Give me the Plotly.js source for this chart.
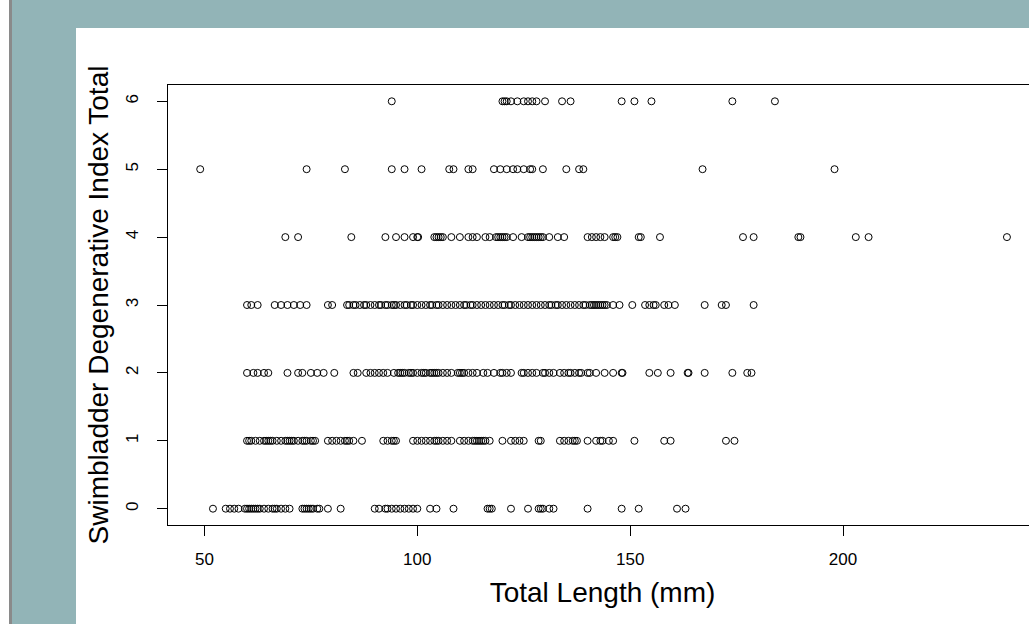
<!DOCTYPE html>
<html><head><meta charset="utf-8">
<script src="https://cdn.plot.ly/plotly-3.0.1.min.js"></script>
<style>
html,body{margin:0;padding:0;overflow:hidden;width:1029px;height:624px;background:#92b4b7;}
#strip{position:absolute;left:0;top:0;width:9px;height:624px;background:#fff;}
#edge{position:absolute;left:9px;top:0;width:3px;height:624px;background:#8a8a8a;}
#plot{position:absolute;left:76px;top:28px;width:969px;height:596px;}
</style></head>
<body>
<div id="strip"></div><div id="edge"></div>
<div id="plot"></div>
<script>
// Total length (mm) of fish at each Swimbladder Degenerative Index score
const score0 = [52, 55, 56, 57, 58, 59.5, 60, 60.5, 61, 61.5, 62, 62.5, 63, 64, 65, 66, 66.5, 67, 68, 69, 70, 73, 73.5, 74, 74.5, 75, 75.5, 76.5, 77, 79, 82, 90, 91, 92.5, 93, 94, 95, 96, 97, 98, 99, 100, 103, 104.5, 108.5, 116.5, 117, 117.5, 122, 126, 128.5, 129, 129.5, 131, 132, 140, 148, 152, 161, 163];
const score1 = [60, 60.5, 61, 62, 63, 64, 64.5, 65, 65.5, 66, 67, 68, 69, 69.5, 70, 70.5, 71, 72, 73, 73.5, 74, 75, 75.5, 76, 79, 80, 81, 82, 83, 83.5, 84, 85, 87, 92, 93, 94, 94.5, 95, 99, 100, 101, 102, 103, 104, 104.5, 105, 106, 107, 108, 110, 111, 112, 113, 113.5, 114, 114.5, 115, 115.5, 116, 117, 120, 122, 123, 124, 125, 128.5, 129, 133.5, 134.5, 135.5, 136.5, 137, 137.5, 140, 142, 143, 143.5, 145, 146, 151, 158, 159.5, 172.5, 174.5];
const score2 = [60, 61.5, 62.5, 64, 65, 69.5, 72, 73, 75, 76.5, 78, 80.5, 85, 86, 88, 89, 90, 91, 92, 93, 94.5, 95.5, 96, 96.5, 97, 98, 98.5, 99, 100, 101, 101.5, 102, 103, 103.5, 104, 104.5, 105, 106, 107, 108, 109.5, 110, 110.5, 111, 112, 113, 114, 115.5, 116.5, 118, 119.5, 120, 121, 122, 124.5, 125, 126, 127, 128, 129.5, 130, 131, 132, 133.5, 134.5, 135.5, 136, 137, 138, 138.5, 140, 140.5, 142, 144, 146, 148, 148.2, 154.5, 156.5, 159.5, 163.5, 163.7, 167.5, 174, 177.5, 178.5];
const score3 = [60, 61, 62.5, 66.5, 68, 69.5, 71, 72.5, 74, 79, 80, 83.5, 84, 85, 85.5, 86.5, 87.5, 88, 89, 90, 91, 91.5, 92.5, 93, 94, 94.5, 95, 96, 97, 97.5, 98.5, 99, 100, 101, 102, 103, 103.5, 104.5, 105, 106, 107, 108, 109, 110, 111, 111.5, 112.5, 113, 114, 115, 116, 117, 118, 119, 120, 120.5, 121.5, 122, 123, 124, 125, 126, 127, 128, 129, 130, 131, 131.5, 132.5, 133, 134, 135, 136, 137, 138, 139, 139.5, 140.5, 141, 141.5, 142, 142.5, 143, 143.5, 144, 144.5, 146, 147.5, 150.5, 153.5, 154.5, 155.5, 156, 158, 159, 160.5, 167.5, 171.5, 172.5, 179];
const score4 = [69, 72, 84.5, 92.5, 95, 97, 99, 100, 100.2, 104, 104.5, 105, 105.5, 106, 108, 110, 112, 113, 114, 116, 117, 118.5, 119, 119.5, 120, 120.5, 121, 122.5, 124.5, 126, 126.5, 127, 127.5, 128, 128.5, 129, 129.5, 131, 133, 134.5, 140, 141, 142, 143, 144, 146, 146.5, 147, 152, 152.5, 157, 176.5, 179, 189.5, 190, 203, 206, 238.5];
const score5 = [49, 74, 83, 94, 97, 101, 107.5, 108.5, 112, 113, 118, 119.5, 121, 122.5, 123.5, 125, 126.5, 127, 129.5, 135, 138, 139, 167, 198];
const score6 = [94, 120, 120.5, 121, 122, 123.5, 125, 126, 127, 128, 130, 134, 136, 148, 151, 155, 174, 184];

const groups = [score0, score1, score2, score3, score4, score5, score6];
const scoreLevels = [0, 1, 2, 3, 4, 5, 6];
const xTicks = [50, 100, 150, 200];

const xs = [], ys = [];
groups.forEach((g, i) => g.forEach(v => { xs.push(v); ys.push(scoreLevels[i]); }));

const font = 'Liberation Sans, Arial, sans-serif';
Plotly.newPlot('plot', [{
  x: xs, y: ys, type: 'scatter', mode: 'markers',
  marker: {symbol: 'circle-open', size: 7, color: '#000', line: {width: 1, color: '#000'}},
  hoverinfo: 'skip'
}], {
  width: 969, height: 596,
  margin: {l: 92, r: 8, t: 57, b: 99},
  paper_bgcolor: '#fff', plot_bgcolor: '#fff',
  showlegend: false,
  xaxis: {
    range: [41.44, 245.56], tickvals: xTicks, ticks: 'outside', ticklen: 10, tickwidth: 1, tickcolor: '#000',
    showgrid: false, zeroline: false, showline: true, mirror: true, linecolor: '#000', linewidth: 1,
    tickfont: {family: font, size: 17, color: '#000'}, ticklabelstandoff: 9,
    title: {text: 'Total Length (mm)', font: {family: font, size: 28, color: '#000'}, standoff: 13}
  },
  yaxis: {
    range: [-0.24, 6.24], tickvals: scoreLevels, ticks: 'outside', ticklen: 10, tickwidth: 1, tickcolor: '#000',
    showgrid: false, zeroline: false, showline: true, mirror: true, linecolor: '#000', linewidth: 1,
    tickangle: -90, tickfont: {family: font, size: 17, color: '#000'}, ticklabelstandoff: 12,
    title: {text: 'Swimbladder Degenerative Index Total', font: {family: font, size: 28, color: '#000'}, standoff: 6}
  }
}, {staticPlot: true});
</script>
</body></html>
